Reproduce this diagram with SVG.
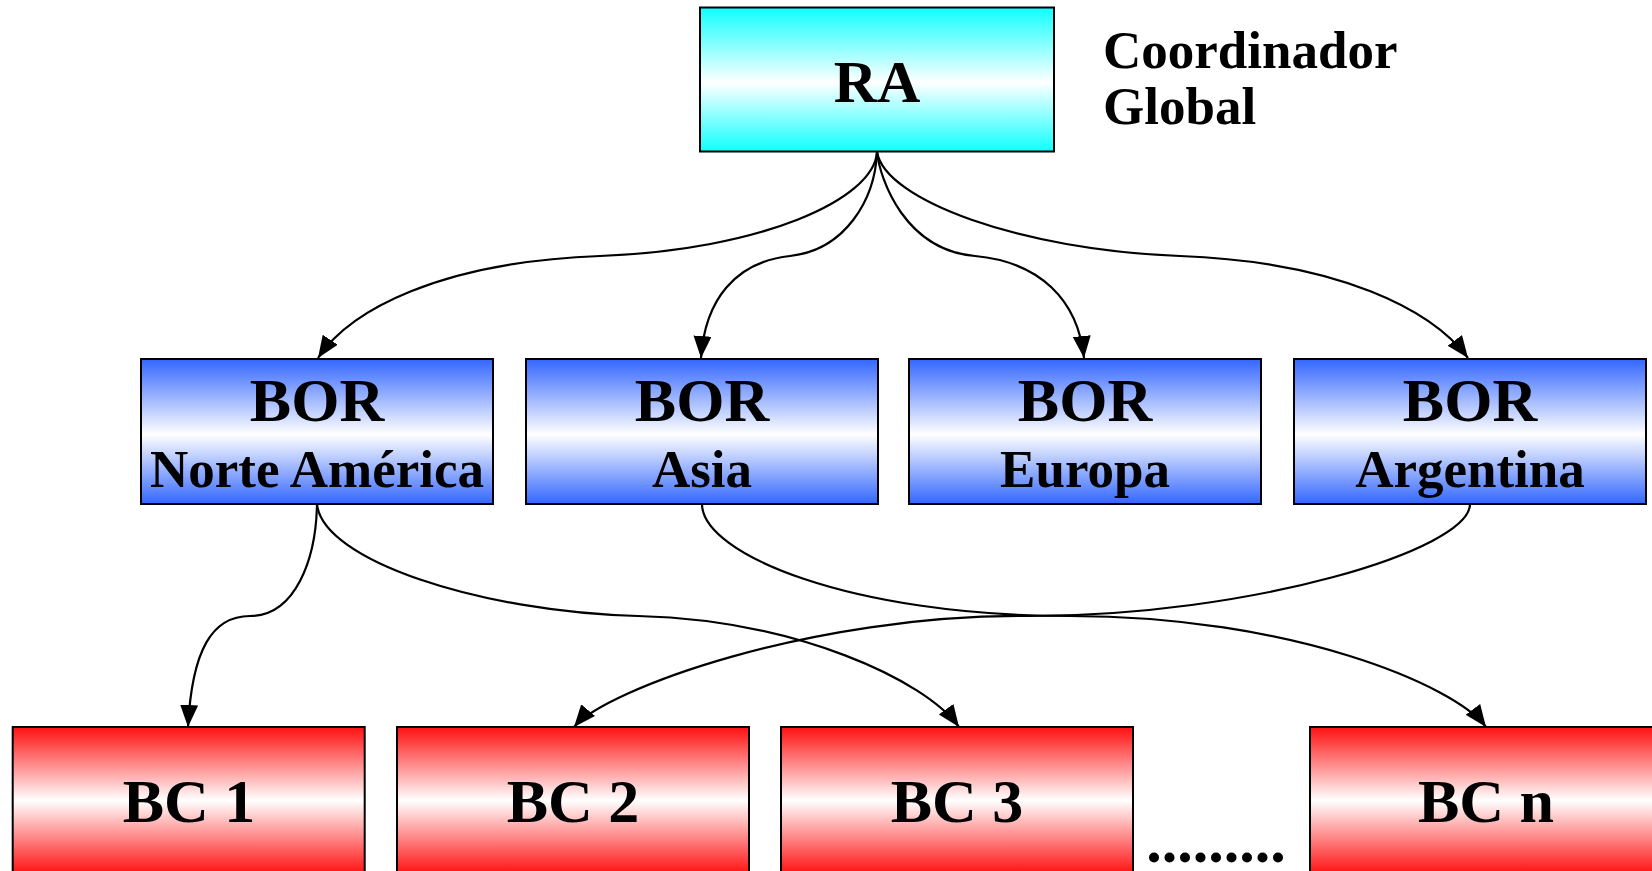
<svg xmlns="http://www.w3.org/2000/svg" width="1652" height="871" viewBox="0 0 1652 871">
<style>
.box{stroke:#000;stroke-width:2}
.t{font-family:"Liberation Serif","Times New Roman",serif;font-weight:bold;fill:#000;text-anchor:middle}
.big{font-size:62px}
.sub{font-size:53px}
.lbl{font-family:"Liberation Serif","Times New Roman",serif;font-weight:bold;fill:#000;font-size:53px}
.c{fill:none;stroke:#000;stroke-width:2.2;marker-end:url(#ah)}
</style>
<defs>
<linearGradient id="gCyan" x1="0" y1="0" x2="0" y2="1">
<stop offset="0" stop-color="#10ffff"/><stop offset="0.52" stop-color="#ffffff"/><stop offset="1" stop-color="#10ffff"/>
</linearGradient>
<linearGradient id="gBlue" x1="0" y1="0" x2="0" y2="1">
<stop offset="0" stop-color="#3366ff"/><stop offset="0.52" stop-color="#ffffff"/><stop offset="1" stop-color="#3366ff"/>
</linearGradient>
<linearGradient id="gRed" x1="0" y1="0" x2="0" y2="1">
<stop offset="0" stop-color="#ff1010"/><stop offset="0.5" stop-color="#ffffff"/><stop offset="1" stop-color="#ff1010"/>
</linearGradient>
<marker id="ah" markerUnits="userSpaceOnUse" markerWidth="26" markerHeight="20" refX="22" refY="9" orient="auto">
<path d="M0,0 L22,9 L0,18 Z" fill="#000"/>
</marker>
</defs>

<g id="connectors">
<path class="c" d="M877,152 C874,200 760,250 600,256 C440,262 350,310 318,358"/>
<path class="c" d="M877,152 C875,200 845,250 790,256 C735,262 705,300 701,358"/>
<path class="c" d="M877,152 C880,180 905,250 975,256 C1040,262 1078,300 1084,358"/>
<path class="c" d="M877,152 C885,200 1020,250 1180,256 C1340,262 1432,310 1468,358"/>
<path class="c" d="M317,504 C316,560 295,616 250,616 C212,616 192,650 188,727"/>
<path class="c" d="M317,504 C322,560 480,612 638,616 C796,620 925,680 959,727"/>
<path class="c" d="M702,504 C702,554 850,616 1070,616 C1290,616 1455,685 1486,727"/>
<path class="c" d="M1470,504 C1470,550 1250,616 1030,616 C810,614 605,690 574,727"/>
</g>

<g id="ra">
<rect class="box" x="700" y="7.5" width="354" height="144" fill="url(#gCyan)"/>
<text class="t" x="877" y="102" font-size="60">RA</text>
</g>
<g id="coord-label">
<text class="lbl" x="1103" y="68">Coordinador</text>
<text class="lbl" x="1103" y="124">Global</text>
</g>

<g id="bor-na">
<rect class="box" x="141" y="359" width="352" height="145" fill="url(#gBlue)"/>
<text class="t big" x="317" y="421">BOR</text>
<text class="t sub" x="317" y="487">Norte América</text>
</g>
<g id="bor-asia">
<rect class="box" x="526" y="359" width="352" height="145" fill="url(#gBlue)"/>
<text class="t big" x="702" y="421">BOR</text>
<text class="t sub" x="702" y="487">Asia</text>
</g>
<g id="bor-europa">
<rect class="box" x="909" y="359" width="352" height="145" fill="url(#gBlue)"/>
<text class="t big" x="1085" y="421">BOR</text>
<text class="t sub" x="1085" y="487">Europa</text>
</g>
<g id="bor-argentina">
<rect class="box" x="1294" y="359" width="352" height="145" fill="url(#gBlue)"/>
<text class="t big" x="1470" y="421">BOR</text>
<text class="t sub" x="1470" y="487">Argentina</text>
</g>

<g id="bc1">
<rect class="box" x="12.7" y="727" width="352" height="147" fill="url(#gRed)"/>
<text class="t big" x="189" y="822">BC 1</text>
</g>
<g id="bc2">
<rect class="box" x="397" y="727" width="352" height="147" fill="url(#gRed)"/>
<text class="t big" x="573" y="822">BC 2</text>
</g>
<g id="bc3">
<rect class="box" x="781" y="727" width="352" height="147" fill="url(#gRed)"/>
<text class="t big" x="957" y="822">BC 3</text>
</g>
<g id="bcn">
<rect class="box" x="1310" y="727" width="352" height="147" fill="url(#gRed)"/>
<text class="t big" x="1486" y="822">BC n</text>
</g>
<g id="ellipsis">
<text class="t big" x="1216" y="862">.........</text>
</g>
</svg>
